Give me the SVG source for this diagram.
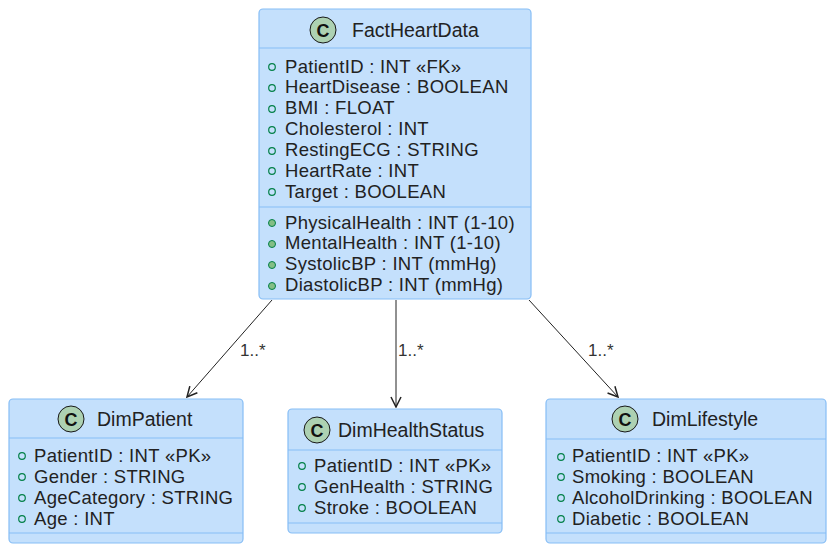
<svg xmlns="http://www.w3.org/2000/svg" width="834" height="552" viewBox="0 0 834 552">
<style>
.box{fill:#C4E0FC;stroke:#86BDF5;stroke-width:1.2}
.div{stroke:#86BDF5;stroke-width:1.2}
.title{font-family:"Liberation Sans",Arial,sans-serif;font-size:19.5px;fill:#222}
.attr{font-family:"Liberation Sans",Arial,sans-serif;font-size:18.5px;letter-spacing:0.3px;fill:#222}
.icon{fill:#ADD1B2;stroke:#181818;stroke-width:1}
.ic{font-family:"Liberation Sans",Arial,sans-serif;font-size:18px;font-weight:bold;fill:#111}
.fv{fill:none;stroke:#038048;stroke-width:1.2}
.mv{fill:#84BE84;stroke:#038048;stroke-width:1}
.edge{fill:none;stroke:#222;stroke-width:1}
.lbl{font-family:"Liberation Sans",Arial,sans-serif;font-size:17px;fill:#333}
</style>
<defs>
<marker id="arr" viewBox="0 0 12 12" refX="11" refY="6" markerWidth="12" markerHeight="12" markerUnits="userSpaceOnUse" orient="auto">
<path d="M1,1 L11,6 L1,11" fill="none" stroke="#222" stroke-width="1.5"/>
</marker>
</defs>

<g id="FactHeartData">
<rect class="box" x="259" y="9" width="272" height="290" rx="4"/>
<line class="div" x1="259" y1="48" x2="531" y2="48"/>
<line class="div" x1="259" y1="207" x2="531" y2="207"/>
<circle class="icon" cx="323" cy="30" r="13"/>
<text class="ic" x="323" y="36.5" text-anchor="middle">C</text>
<text class="title" x="352" y="37">FactHeartData</text>
<circle class="fv" cx="272" cy="67" r="3.3"/><text class="attr" x="285" y="72.5">PatientID : INT «FK»</text>
<circle class="fv" cx="272" cy="88" r="3.3"/><text class="attr" x="285" y="93.4">HeartDisease : BOOLEAN</text>
<circle class="fv" cx="272" cy="109" r="3.3"/><text class="attr" x="285" y="114.3">BMI : FLOAT</text>
<circle class="fv" cx="272" cy="130" r="3.3"/><text class="attr" x="285" y="135.2">Cholesterol : INT</text>
<circle class="fv" cx="272" cy="151" r="3.3"/><text class="attr" x="285" y="156.1">RestingECG : STRING</text>
<circle class="fv" cx="272" cy="171" r="3.3"/><text class="attr" x="285" y="177">HeartRate : INT</text>
<circle class="fv" cx="272" cy="192" r="3.3"/><text class="attr" x="285" y="197.9">Target : BOOLEAN</text>
<circle class="mv" cx="272" cy="223" r="3.5"/><text class="attr" x="285" y="228.5">PhysicalHealth : INT (1-10)</text>
<circle class="mv" cx="272" cy="244" r="3.5"/><text class="attr" x="285" y="249.4">MentalHealth : INT (1-10)</text>
<circle class="mv" cx="272" cy="265" r="3.5"/><text class="attr" x="285" y="270.3">SystolicBP : INT (mmHg)</text>
<circle class="mv" cx="272" cy="286" r="3.5"/><text class="attr" x="285" y="291.2">DiastolicBP : INT (mmHg)</text>
</g>

<g id="DimPatient">
<rect class="box" x="9" y="399" width="234" height="144" rx="4"/>
<line class="div" x1="9" y1="438" x2="243" y2="438"/>
<line class="div" x1="9" y1="533" x2="243" y2="533"/>
<circle class="icon" cx="71" cy="419" r="13"/>
<text class="ic" x="71" y="425.5" text-anchor="middle">C</text>
<text class="title" x="97" y="426">DimPatient</text>
<circle class="fv" cx="22" cy="456" r="3.3"/><text class="attr" x="34" y="461.5">PatientID : INT «PK»</text>
<circle class="fv" cx="22" cy="477" r="3.3"/><text class="attr" x="34" y="482.5">Gender : STRING</text>
<circle class="fv" cx="22" cy="498" r="3.3"/><text class="attr" x="34" y="503.5">AgeCategory : STRING</text>
<circle class="fv" cx="22" cy="519" r="3.3"/><text class="attr" x="34" y="524.5">Age : INT</text>
</g>

<g id="DimHealthStatus">
<rect class="box" x="288" y="409" width="214" height="124" rx="4"/>
<line class="div" x1="288" y1="450" x2="502" y2="450"/>
<line class="div" x1="288" y1="523" x2="502" y2="523"/>
<circle class="icon" cx="317" cy="430" r="13"/>
<text class="ic" x="317" y="436.5" text-anchor="middle">C</text>
<text class="title" x="338" y="437">DimHealthStatus</text>
<circle class="fv" cx="302" cy="466" r="3.3"/><text class="attr" x="314" y="471.5">PatientID : INT «PK»</text>
<circle class="fv" cx="302" cy="487" r="3.3"/><text class="attr" x="314" y="492.5">GenHealth : STRING</text>
<circle class="fv" cx="302" cy="508" r="3.3"/><text class="attr" x="314" y="513.5">Stroke : BOOLEAN</text>
</g>

<g id="DimLifestyle">
<rect class="box" x="546" y="399" width="280" height="144" rx="4"/>
<line class="div" x1="546" y1="439" x2="826" y2="439"/>
<line class="div" x1="546" y1="533" x2="826" y2="533"/>
<circle class="icon" cx="625" cy="419" r="13"/>
<text class="ic" x="625" y="425.5" text-anchor="middle">C</text>
<text class="title" x="652" y="426">DimLifestyle</text>
<circle class="fv" cx="561" cy="457" r="3.3"/><text class="attr" x="572" y="462">PatientID : INT «PK»</text>
<circle class="fv" cx="561" cy="477" r="3.3"/><text class="attr" x="572" y="482.5">Smoking : BOOLEAN</text>
<circle class="fv" cx="561" cy="498" r="3.3"/><text class="attr" x="572" y="503.5">AlcoholDrinking : BOOLEAN</text>
<circle class="fv" cx="561" cy="519" r="3.3"/><text class="attr" x="572" y="524.5">Diabetic : BOOLEAN</text>
</g>

<g id="connectors">
<path class="edge" d="M272,300 L187,397" marker-end="url(#arr)"/>
<path class="edge" d="M396,300 L396,407" marker-end="url(#arr)"/>
<path class="edge" d="M529,300 L618,397" marker-end="url(#arr)"/>
<text class="lbl" x="240" y="356">1..*</text>
<text class="lbl" x="398" y="356">1..*</text>
<text class="lbl" x="588" y="356">1..*</text>
</g>
</svg>
